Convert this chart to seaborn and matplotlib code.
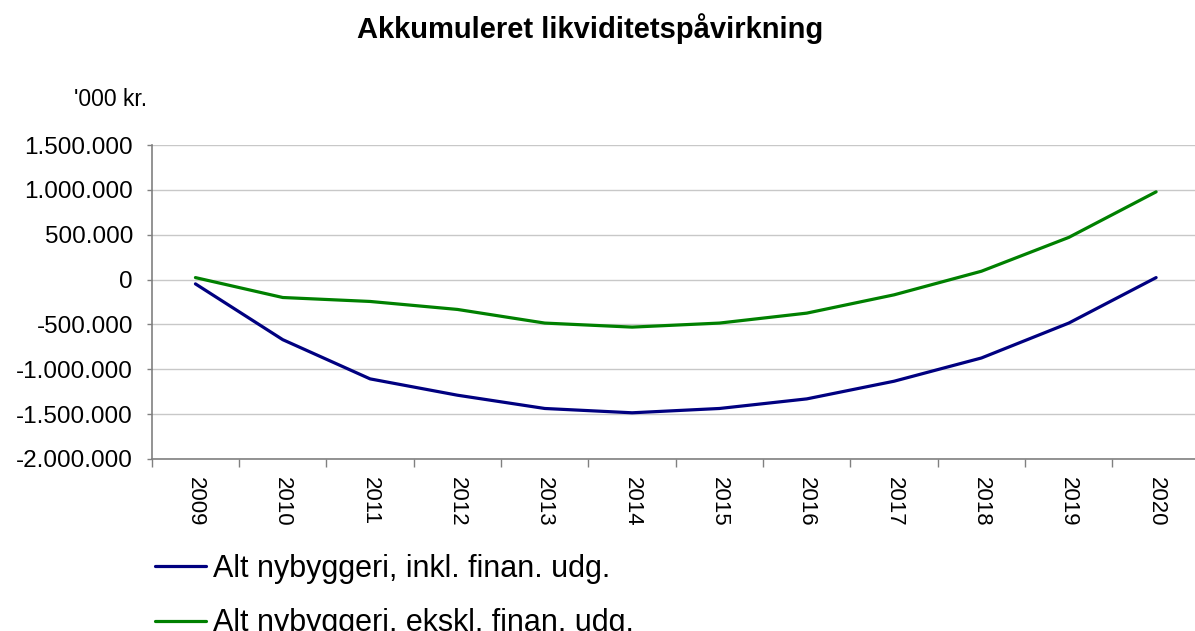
import numpy as np
import pandas as pd
import matplotlib
matplotlib.use("Agg")
import matplotlib.pyplot as plt
import seaborn as sns
from matplotlib.ticker import FuncFormatter, FixedLocator

years = ["2009", "2010", "2011", "2012", "2013", "2014",
         "2015", "2016", "2017", "2018", "2019", "2020"]
inkl = [-48000, -670000, -1107000, -1289000, -1437000, -1485000,
        -1437000, -1330000, -1133000, -874000, -485000, 22000]
ekskl = [22000, -200000, -244000, -333000, -485000, -530000,
         -485000, -374000, -170000, 93000, 470000, 978000]
series_names = ["Alt nybyggeri, inkl. finan. udg.",
                "Alt nybyggeri, ekskl. finan. udg."]
colors = ["#000080", "#008000"]

df = pd.DataFrame({
    "pos": list(range(len(years))) * 2,
    "value": inkl + ekskl,
    "serie": [series_names[0]] * len(years) + [series_names[1]] * len(years),
})

sns.set_style("white")
plt.rcParams["font.family"] = ["Liberation Sans", "DejaVu Sans"]
plt.rcParams["text.color"] = "black"

fig = plt.figure(figsize=(11.95, 6.31), dpi=100)
ax = fig.add_axes([0.127, 0.2726, 0.877, 0.4976])

sns.lineplot(data=df, x="pos", y="value", hue="serie", palette=colors,
             linewidth=2.3, ax=ax, legend=False)

ax.set_xlim(-0.5, len(years) - 0.5)
ax.set_ylim(-2000000, 1500000)
ax.set_yticks(np.arange(-2000000, 1500001, 500000))
ax.yaxis.set_major_formatter(FuncFormatter(lambda v, p: f"{int(v):,}".replace(",", ".")))
ax.grid(axis="y", color="#c8c8c8", linewidth=1)
ax.set_axisbelow(True)

ax.set_xticks(range(len(years)))
ax.set_xticklabels(years, rotation=270, fontsize=16)
ax.xaxis.set_minor_locator(FixedLocator(np.arange(-0.5, len(years), 1.0)))
ax.tick_params(axis="x", which="major", length=0, pad=13, labelcolor="black")
ax.tick_params(axis="x", which="minor", length=6, color="#808080", width=1, bottom=True)
ax.tick_params(axis="y", length=3.6, color="#808080", width=1, labelsize=17.5,
               left=True, pad=10, labelcolor="black")

for s in ["top", "right"]:
    ax.spines[s].set_visible(False)
for s in ["left", "bottom"]:
    ax.spines[s].set_color("#808080")
    ax.spines[s].set_linewidth(1.2)

ax.set_xlabel("")
ax.set_ylabel("")

fig.text(0.494, 0.955, "Akkumuleret likviditetspåvirkning", ha="center", va="center",
         fontsize=21, fontweight="bold")
fig.text(0.062, 0.842, "'000 kr.", ha="left", va="center", fontsize=16.5)

handles = [plt.Line2D([], [], color=c, linewidth=2.3) for c in colors]
fig.legend(handles, series_names, loc="upper left", bbox_to_anchor=(0.130, 0.122),
           bbox_transform=fig.transFigure, frameon=False, fontsize=22,
           handlelength=1.65, handletextpad=0.25, labelspacing=0.8, borderaxespad=0,
           borderpad=0)

fig.savefig("out.png", dpi=100)
